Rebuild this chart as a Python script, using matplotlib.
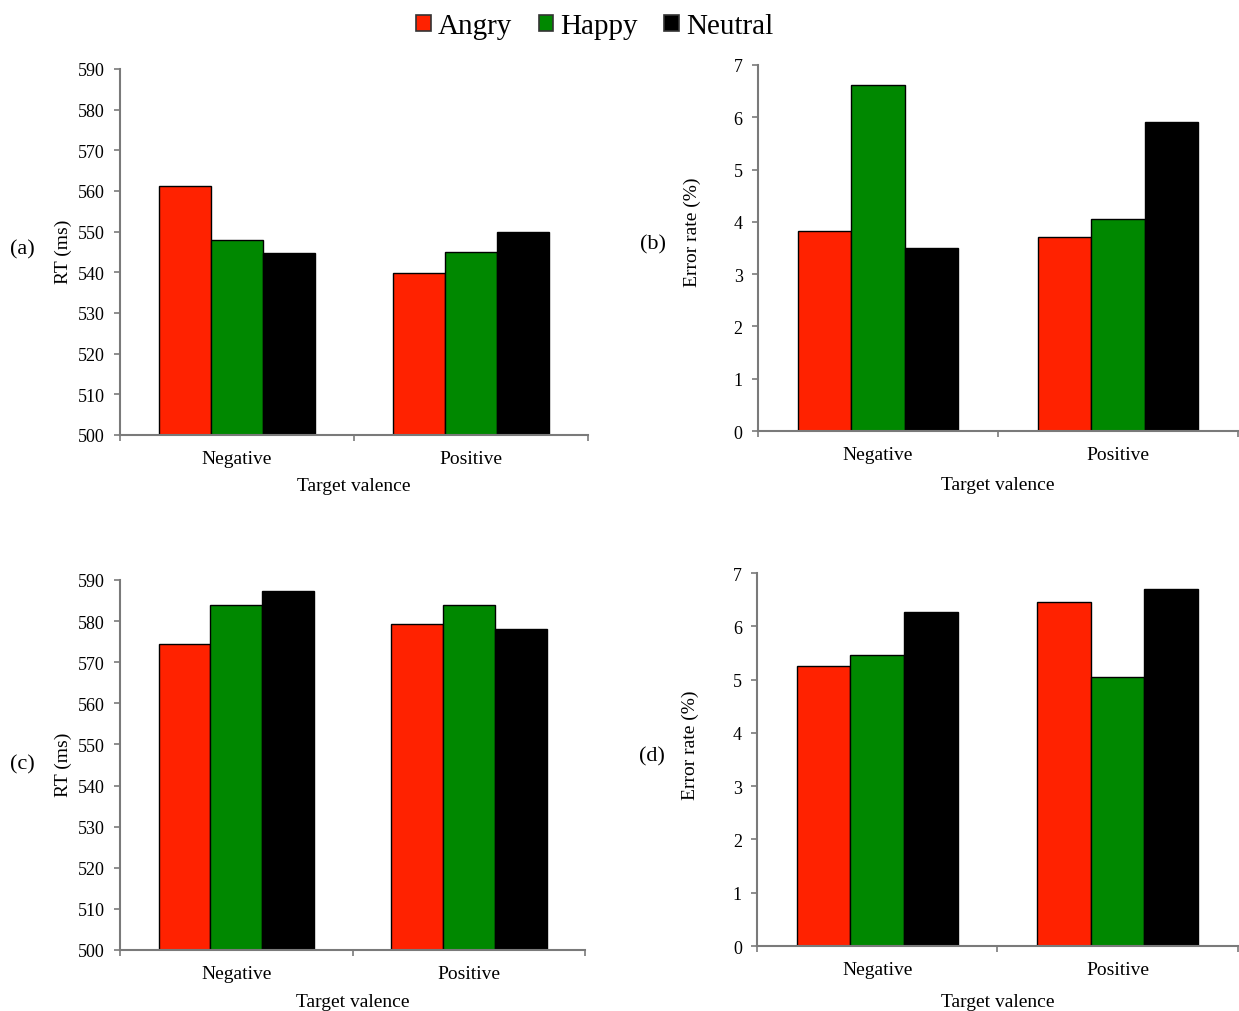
import matplotlib
matplotlib.use("Agg")
import matplotlib.pyplot as plt
from matplotlib.patches import Patch
import numpy as np

plt.rcParams['font.family'] = ['Liberation Serif', 'DejaVu Serif']

# Data
valence = ["Negative", "Positive"]
emotions = ["Angry", "Happy", "Neutral"]
colors = ["#FF2200", "#008800", "#000000"]

rt_a = {"Angry": [561.2, 539.8], "Happy": [547.9, 545.1], "Neutral": [544.7, 549.8]}
err_b = {"Angry": [3.82, 3.71], "Happy": [6.61, 4.06], "Neutral": [3.50, 5.91]}
rt_c = {"Angry": [574.4, 579.3], "Happy": [584.0, 584.0], "Neutral": [587.4, 578.0]}
err_d = {"Angry": [5.26, 6.46], "Happy": [5.47, 5.05], "Neutral": [6.26, 6.70]}

rt_ticks = list(range(500, 591, 10))
err_ticks = list(range(0, 8))

fig = plt.figure(figsize=(12.39, 10.12), dpi=100)

spine_col = "#7a7a7a"
bar_w = 0.223


def draw_panel(rect, data, ylim, yticks, tag, tag_xy, ylabel, ylab_xy, xlab_y):
    ax = fig.add_axes(rect)
    x = np.arange(len(valence))
    for i, emo in enumerate(emotions):
        ax.bar(x + (i - 1) * bar_w, np.array(data[emo]) - ylim[0], bar_w,
               bottom=ylim[0], color=colors[i], edgecolor="black", linewidth=1.0,
               zorder=2)
    ax.set_xlim(-0.5, 1.5)
    ax.set_ylim(*ylim)
    ax.set_yticks(yticks)
    ax.set_yticklabels([str(t) for t in yticks], fontsize=13)
    ax.set_xticks([-0.5, 0.5, 1.5])
    ax.set_xticklabels([])
    ax.set_xticks([0, 1], minor=True)
    ax.set_xticklabels(valence, minor=True, fontsize=14)
    ax.tick_params(axis="x", which="minor", length=0, pad=11)
    ax.tick_params(axis="x", which="major", length=4, width=1.2, color=spine_col, direction="out")
    ax.tick_params(axis="y", length=4, width=1.2, color=spine_col, direction="out", pad=7)
    for s in ["top", "right"]:
        ax.spines[s].set_visible(False)
    for s in ["left", "bottom"]:
        ax.spines[s].set_color(spine_col)
        ax.spines[s].set_linewidth(1.5)
    ax.set_xlabel("Target valence", fontsize=14)
    ax.xaxis.set_label_coords(0.5, xlab_y)
    fig.text(ylab_xy[0] / 1239, 1 - ylab_xy[1] / 1012, ylabel, rotation=90,
             ha="center", va="center", fontsize=14)
    fig.text(tag_xy[0] / 1239, 1 - tag_xy[1] / 1012, tag, ha="center", va="center",
             fontsize=16)
    return ax


draw_panel([0.0969, 0.5692, 0.3777, 0.3617], rt_a, (500, 590), rt_ticks,
           "(a)", (22, 250), "RT (ms)", (63, 252), -0.115)
draw_panel([0.6118, 0.5731, 0.3874, 0.3617], err_b, (0, 7), err_ticks,
           "(b)", (653, 245), "Error rate (%)", (692, 232), -0.123)
draw_panel([0.0969, 0.0603, 0.3753, 0.3656], rt_c, (500, 590), rt_ticks,
           "(c)", (22, 765), "RT (ms)", (63, 765), -0.116)
draw_panel([0.6110, 0.0642, 0.3880, 0.3686], err_d, (0, 7), err_ticks,
           "(d)", (652, 757), "Error rate (%)", (690, 745), -0.126)

handles = [Patch(facecolor=c, edgecolor="#333333", linewidth=1.2) for c in colors]
fig.legend(handles, emotions, loc="center", bbox_to_anchor=(0.48, 0.973),
           ncol=3, frameon=False, fontsize=21, handlelength=0.5, handleheight=0.5,
           handletextpad=0.25, columnspacing=0.9)

fig.savefig("out.png", dpi=100)
